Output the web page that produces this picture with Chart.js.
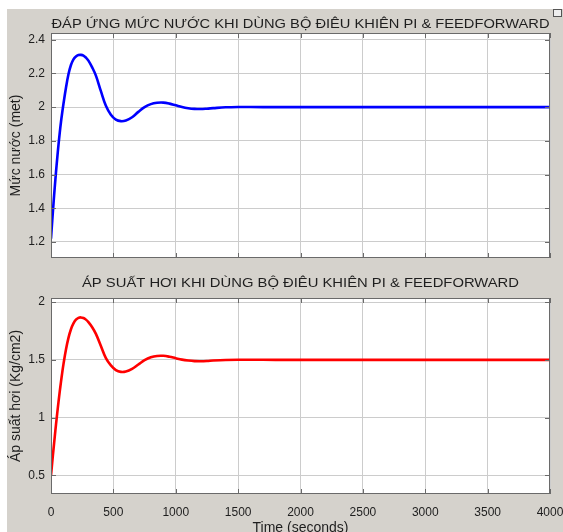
<!DOCTYPE html>
<html>
<head>
<meta charset="utf-8">
<script src="https://cdn.jsdelivr.net/npm/chart.js@4.4.1/dist/chart.umd.min.js"></script>
<style>
  html, body { margin: 0; padding: 0; background: #fff; overflow: hidden; }
  #fig { position: absolute; left: 7px; top: 9px; width: 556px; height: 523px; background: #d5d2cc; }
  #dock { position: absolute; left: 553px; top: 9px; width: 7px; height: 6px; border: 1px solid #555; background: #eee; }
  canvas { position: absolute; left: 0; }
  #top { top: 0; }
  #bottom { top: 265px; }
</style>
</head>
<body>
<div id="fig"></div>
<div id="dock"></div>
<canvas id="top" width="563" height="265"></canvas>
<canvas id="bottom" width="563" height="272"></canvas>
<script>
'use strict';

// time axis (seconds) shared by both responses
const timeS = [0, 10, 20, 30, 40, 50, 60, 70, 80, 90, 100,
  120, 140, 160, 180, 200, 220, 240, 260, 280, 300,
  330, 360, 400, 440, 480, 520, 560, 600,
  650, 700, 750, 800, 850, 900, 950, 1000,
  1050, 1100, 1150, 1200, 1250, 1300,
  1400, 1500, 1600, 1800, 2000,
  2500, 3000, 3500, 4000];

// water level (met)
const levelM = [1.22, 1.326, 1.428, 1.524, 1.614, 1.698, 1.776, 1.848, 1.912, 1.968, 2.02,
  2.115, 2.195, 2.25, 2.284, 2.301, 2.309, 2.31, 2.306, 2.294, 2.276,
  2.236, 2.187, 2.095, 2.008, 1.955, 1.926, 1.917, 1.921,
  1.94, 1.972, 2.0, 2.018, 2.026, 2.027, 2.021, 2.011,
  2.001, 1.994, 1.99, 1.989, 1.991, 1.994,
  1.999, 2.001, 2.001, 2.0, 2.0,
  2.0, 2.0, 2.0, 2.0];

// steam pressure (Kg/cm2)
const pressure = [0.50, 0.615, 0.727, 0.835, 0.94, 1.04, 1.135, 1.225, 1.31, 1.39, 1.463,
  1.59, 1.69, 1.765, 1.815, 1.847, 1.863, 1.867, 1.862, 1.848, 1.826,
  1.782, 1.725, 1.62, 1.515, 1.452, 1.412, 1.396, 1.399,
  1.422, 1.46, 1.497, 1.522, 1.534, 1.535, 1.527, 1.514,
  1.502, 1.494, 1.489, 1.488, 1.49, 1.494,
  1.499, 1.501, 1.501, 1.5, 1.5,
  1.5, 1.5, 1.5, 1.5];

const timeTicks = [0, 500, 1000, 1500, 2000, 2500, 3000, 3500, 4000];
const levelTicks = [1.2, 1.4, 1.6, 1.8, 2, 2.2, 2.4];
const pressureTicks = [0.5, 1, 1.5, 2];

const titles = [
  'ĐÁP ỨNG MỨC NƯỚC KHI DÙNG BỘ ĐIÊU KHIÊN PI & FEEDFORWARD',
  'ÁP SUẤT HƠI KHI DÙNG BỘ ĐIÊU KHIÊN PI & FEEDFORWARD'
];
const yLabels = ['Mức nước (met)', 'Áp suất hơi (Kg/cm2)'];
const xLabel = 'Time (seconds)';

const FONT = 'Liberation Sans, Arial, sans-serif';
const TEXT = '#1e1e1e';
const GRID = '#cccccc';

// white axes box, dark frame with inward ticks, and a matlab-like title
const matlabAxes = {
  id: 'matlabAxes',
  beforeDraw(chart) {
    const a = chart.chartArea;
    const ctx = chart.ctx;
    ctx.save();
    ctx.fillStyle = '#fff';
    ctx.fillRect(a.left, a.top, a.right - a.left, a.bottom - a.top);
    ctx.restore();
  },
  afterDraw(chart, args, opts) {
    const a = chart.chartArea;
    const ctx = chart.ctx;
    const sx = chart.scales.x;
    const sy = chart.scales.y;
    ctx.save();
    ctx.strokeStyle = '#6a6a6a';
    ctx.lineWidth = 1;
    ctx.strokeRect(a.left + 0.5, a.top + 0.5, a.right - a.left - 1, a.bottom - a.top - 1);
    ctx.beginPath();
    sx.ticks.forEach(t => {
      const px = Math.round(sx.getPixelForValue(t.value)) + 0.5;
      ctx.moveTo(px, a.bottom); ctx.lineTo(px, a.bottom - 5);
      ctx.moveTo(px, a.top); ctx.lineTo(px, a.top + 5);
    });
    sy.ticks.forEach(t => {
      const py = Math.round(sy.getPixelForValue(t.value)) + 0.5;
      ctx.moveTo(a.left, py); ctx.lineTo(a.left + 5, py);
      ctx.moveTo(a.right, py); ctx.lineTo(a.right - 5, py);
    });
    ctx.stroke();

    ctx.font = '13px ' + FONT;
    ctx.fillStyle = TEXT;
    ctx.textAlign = 'center';
    ctx.textBaseline = 'alphabetic';
    const w = ctx.measureText(opts.text).width;
    ctx.translate((a.left + a.right) / 2, opts.baseline);
    ctx.scale(opts.width / w, 1);
    ctx.fillText(opts.text, 0, 0);
    ctx.restore();
  }
};

function makeChart(id, values, color, yTicks, yMin, yMax, yLabel, title, baseline, titleWidth, showX) {
  const ctx = document.getElementById(id).getContext('2d');
  return new Chart(ctx, {
    type: 'line',
    data: {
      datasets: [{
        data: timeS.map((t, i) => ({ x: t, y: values[i] })),
        borderColor: color,
        borderWidth: 2.6,
        pointRadius: 0,
        fill: false,
        tension: 0.4
      }]
    },
    options: {
      responsive: false,
      animation: false,
      devicePixelRatio: 1,
      layout: { padding: { top: 33, right: 13, left: 0, bottom: 0 } },
      plugins: {
        legend: { display: false },
        tooltip: { enabled: false },
        matlabAxes: { text: title, baseline: baseline, width: titleWidth }
      },
      scales: {
        x: {
          type: 'linear',
          min: 0,
          max: 4000,
          afterBuildTicks: s => { s.ticks = timeTicks.map(v => ({ value: v })); },
          afterFit: s => { s.height = showX ? 43 : 7; s.paddingLeft = 0; s.paddingRight = 0; },
          grid: { color: GRID, drawTicks: false },
          border: { display: false },
          ticks: {
            display: showX,
            padding: 11,
            maxRotation: 0,
            autoSkip: false,
            color: TEXT,
            font: { family: FONT, size: 12 },
            callback: v => String(v)
          },
          title: {
            display: showX,
            text: xLabel,
            color: TEXT,
            font: { family: FONT, size: 14 },
            padding: 0
          }
        },
        y: {
          type: 'linear',
          min: yMin,
          max: yMax,
          afterBuildTicks: s => { s.ticks = yTicks.map(v => ({ value: v })); },
          afterFit: s => { s.width = 51; s.paddingTop = 0; s.paddingBottom = 0; },
          grid: { color: GRID, drawTicks: false },
          border: { display: false },
          ticks: {
            padding: 6,
            color: TEXT,
            font: { family: FONT, size: 12 },
            callback: v => String(v)
          },
          title: {
            display: true,
            text: yLabel,
            color: TEXT,
            font: { family: FONT, size: 14 },
            padding: { top: 8, bottom: 0 }
          }
        }
      }
    },
    plugins: [matlabAxes]
  });
}

makeChart('top', levelM, '#0000ff', levelTicks, 1.105, 2.44, yLabels[0], titles[0], 27.5, 498, false);
makeChart('bottom', pressure, '#ff0000', pressureTicks, 0.34, 2.035, yLabels[1], titles[1], 22, 437, true);
</script>
</body>
</html>
